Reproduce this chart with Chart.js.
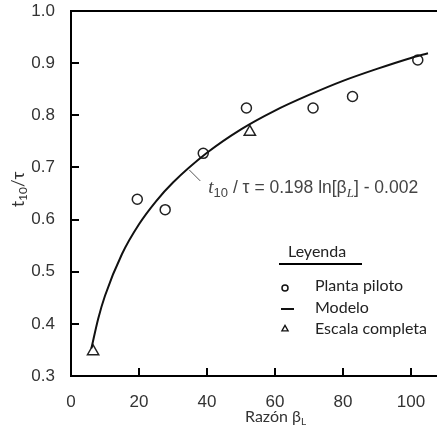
<!DOCTYPE html>
<html>
<head>
<meta charset="utf-8">
<script src="https://cdn.jsdelivr.net/npm/chart.js@4.4.1/dist/chart.umd.min.js"></script>
<style>
  html, body { margin: 0; padding: 0; background: #fff; }
  canvas { display: block; }
</style>
</head>
<body>
<canvas id="ratioChart" width="437" height="429"></canvas>
<script>
// tick values
const xTicks = [0, 20, 40, 60, 80, 100];
const yTicks = [0.3, 0.4, 0.5, 0.6, 0.7, 0.8, 0.9, 1.0];

// Planta piloto (circles)
const pilotX = [19.5, 27.7, 38.9, 51.6, 71.2, 82.8, 102];
const pilotY = [0.639, 0.619, 0.727, 0.814, 0.814, 0.836, 0.906];

// Escala completa (triangles)
const fullX = [6.5, 52.6];
const fullY = [0.347, 0.768];

// Modelo curve
const modelX = [6, 8, 10, 15, 20, 25, 30, 40, 50, 60, 70, 80, 90, 100, 105];
const modelY = [0.353, 0.410, 0.454, 0.534, 0.591, 0.635, 0.671, 0.728, 0.773, 0.809, 0.839, 0.866, 0.889, 0.910, 0.919];

const legendItems = ["Planta piloto", "Modelo", "Escala completa"];

function pairs(xs, ys){
  return xs.map((x, i) => ({ x: x, y: ys[i] }));
}

// draw runs of text with sub-scripts
function drawRuns(ctx, runs, x, y){
  let cx = x;
  runs.forEach(r => {
    ctx.font = r.font;
    ctx.fillText(r.t, cx, y + (r.dy || 0));
    cx += ctx.measureText(r.t).width;
  });
  return cx;
}

const SANS = '"Liberation Sans", Arial, sans-serif';
const SERIF = '"Liberation Serif", "DejaVu Serif", serif';
const LEG = 'Lato, "Open Sans", sans-serif';

const decorPlugin = {
  id: "decor",
  afterDraw(chart){
    const ctx = chart.ctx;
    const area = chart.chartArea;
    const xs = chart.scales.x;
    const ys = chart.scales.y;

    ctx.save();
    ctx.fillStyle = "#000";

    // top frame line, and bottom axis running to the edge
    ctx.fillRect(area.left - 1, area.top - 1, chart.width - area.left + 1, 2);
    ctx.fillRect(area.left - 1, area.bottom - 1, chart.width - area.left + 1, 2);

    // inward ticks
    xTicks.forEach(v => {
      if(v === 0) return;
      const px = Math.round(xs.getPixelForValue(v));
      ctx.fillRect(px - 1, area.bottom - 8, 2, 8);
    });
    yTicks.forEach(v => {
      if(v === 0.3 || v === 1.0) return;
      const py = Math.round(ys.getPixelForValue(v));
      ctx.fillRect(area.left, py - 1, 8, 2);
    });

    // axis titles
    ctx.fillStyle = "#333";
    ctx.textBaseline = "alphabetic";
    ctx.textAlign = "left";
    drawRuns(ctx, [
      { t: "Razón β", font: "16px " + LEG },
      { t: "L", font: "10px " + LEG, dy: 3 }
    ], 245, 422);

    ctx.save();
    ctx.translate(24, 207);
    ctx.rotate(-Math.PI / 2);
    drawRuns(ctx, [
      { t: "t", font: "17px " + LEG },
      { t: "10", font: "12px " + LEG, dy: 3 },
      { t: "/τ", font: "17px " + LEG }
    ], 0, 0);
    ctx.restore();

    // equation label with leader line
    const ax = xs.getPixelForValue(34.5);
    const ay = ys.getPixelForValue(0.699);
    ctx.strokeStyle = "#555";
    ctx.lineWidth = 1;
    ctx.beginPath();
    ctx.moveTo(ax + 1, ay + 2);
    ctx.lineTo(ax + 12, ay + 13);
    ctx.stroke();

    ctx.fillStyle = "#444";
    drawRuns(ctx, [
      { t: "t", font: "italic 19px " + SERIF },
      { t: "10", font: "13px " + SANS, dy: 4 },
      { t: " / τ = 0.198 ln[β", font: "17.5px " + SANS },
      { t: "L", font: "italic 13px " + SERIF, dy: 4 },
      { t: "] - 0.002", font: "17.5px " + SANS }
    ], ax + 20, ay + 25);

    // legend
    ctx.fillStyle = "#222";
    ctx.font = "16px " + LEG;
    ctx.fillText("Leyenda", 288, 257);
    ctx.fillStyle = "#000";
    ctx.fillRect(279, 263, 83, 2);

    const rows = [291, 313, 334];
    legendItems.forEach((label, i) => {
      ctx.fillStyle = "#222";
      ctx.font = "16px " + LEG;
      ctx.fillText(label, 315, rows[i]);
    });
    ctx.lineWidth = 1.5;
    ctx.strokeStyle = "#111";
    ctx.fillStyle = "#fff";
    Chart.helpers.drawPoint(ctx, { pointStyle: "circle", radius: 3, borderWidth: 1.5 }, 285, rows[0] - 3);
    ctx.fillStyle = "#111";
    ctx.fillRect(281, rows[1] - 5, 13, 2);
    ctx.lineWidth = 1.3;
    ctx.fillStyle = "#fff";
    Chart.helpers.drawPoint(ctx, { pointStyle: "triangle", radius: 3.6, borderWidth: 1.3 }, 285, rows[2] - 5);

    ctx.restore();
  }
};

new Chart(document.getElementById("ratioChart"), {
  type: "scatter",
  data: {
    datasets: [
      {
        label: "Modelo",
        data: pairs(modelX, modelY),
        showLine: true,
        cubicInterpolationMode: "monotone",
        borderColor: "#111",
        borderWidth: 2,
        pointRadius: 0
      },
      {
        label: "Planta piloto",
        data: pairs(pilotX, pilotY),
        pointStyle: "circle",
        pointRadius: 5,
        pointBorderWidth: 1.5,
        pointBorderColor: "#222",
        pointBackgroundColor: "rgba(255,255,255,0)"
      },
      {
        label: "Escala completa",
        data: pairs(fullX, fullY),
        pointStyle: "triangle",
        pointRadius: 6.5,
        pointBorderWidth: 1.5,
        pointBorderColor: "#222",
        pointBackgroundColor: "rgba(255,255,255,0)"
      }
    ]
  },
  options: {
    responsive: false,
    animation: false,
    layout: { padding: { top: 11, right: 0, left: 0, bottom: 0 } },
    plugins: {
      legend: { display: false },
      tooltip: { enabled: false }
    },
    scales: {
      x: {
        type: "linear",
        min: 0,
        max: 105.3,
        afterBuildTicks(scale){
          scale.ticks = xTicks.map(v => ({ value: v }));
        },
        afterFit(scale){
          scale.height = 53;
          scale.paddingLeft = 0;
          scale.paddingRight = 0;
        },
        grid: { display: false },
        border: { display: true, color: "#000", width: 2 },
        ticks: {
          color: "#333",
          padding: 8,
          maxRotation: 0,
          font: { family: "Liberation Sans", size: 17 }
        }
      },
      y: {
        type: "linear",
        min: 0.3,
        max: 1.0,
        afterBuildTicks(scale){
          scale.ticks = yTicks.map(v => ({ value: v }));
        },
        afterFit(scale){
          scale.width = 71;
          scale.paddingTop = 0;
          scale.paddingBottom = 0;
        },
        grid: { display: false },
        border: { display: true, color: "#000", width: 2 },
        ticks: {
          color: "#333",
          padding: 8,
          font: { family: "Liberation Sans", size: 17 },
          callback: v => v.toFixed(1)
        }
      }
    }
  },
  plugins: [decorPlugin]
});
</script>
</body>
</html>
